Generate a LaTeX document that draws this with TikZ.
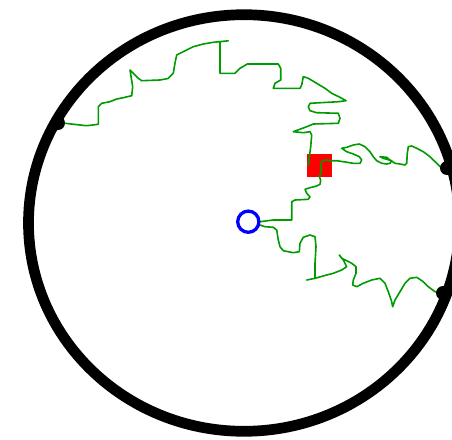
\documentclass[tikz,border=0pt]{standalone}
\definecolor{walkgreen}{RGB}{0,155,0}
\begin{document}
\begin{tikzpicture}[x=1pt,y=-1pt,
  walk/.style={draw=walkgreen, line width=1.6pt, line join=round, line cap=round},
  hit/.style={circle, fill=black, inner sep=0pt, minimum size=14pt},
  ring/.style={draw=black, line width=10.7pt},
  startmark/.style={circle, draw=blue, line width=3.3pt, inner sep=0pt, minimum size=21.2pt, fill=white},
  targetbox/.style={fill=red, inner sep=0pt, minimum width=25pt, minimum height=22.7pt}
]
\useasboundingbox (0,0) rectangle (452,439);
\clip (0,0) rectangle (452,439);
\fill[white] (0,0) rectangle (452,439);

\node[targetbox] (target) at (319.2,165.3) {};
\coordinate (hitL) at (58,123);
\coordinate (hitR) at (447,168);
\coordinate (hitB) at (443,293);
\coordinate (o) at (248.3,221.7);

% walk: start -> target -> right hit
\draw[walk] (260,221.7) -- (273.3,220) -- (291.7,220) -- (291.7,201.7) -- (295,200) -- (308.3,199.3) -- (310,196.7) -- (306.7,193.3) -- (305,189.3) -- (310,187.7) -- (316.7,186) -- (320,184.3) -- (320.7,180) -- (319.3,176.7) -- (321.7,171.7) -- (320.7,166.7) -- (321.7,161.7) -- (325,160) -- (331.7,160.7) -- (336.7,160.7) -- (343.3,161.7) -- (353.3,163.3) -- (360,163.3) -- (361.7,160) -- (359.3,156.7) -- (353.3,154) -- (346.7,151.7) -- (341.7,148.3) -- (346.7,147.3) -- (353.3,145) -- (359.3,144) -- (365,146.7) -- (370,151.7) -- (373.3,156.7) -- (376.7,160.7) -- (381.7,163.3) -- (386.7,164) -- (390,163.3) -- (391.7,160.7) -- (383.3,158.3) -- (380,156.7) -- (386.7,157.3) -- (390,160) -- (395,163.3) -- (400,164) -- (405,165) -- (406.7,163.3) -- (407.3,153.3) -- (408.3,146.7) -- (411.7,146) -- (416.7,148.3) -- (423.3,151.7) -- (430,156.7) -- (436.7,163.3) -- (441.7,168.3) -- (hitR);

% walk: target -> left hit
\draw[walk] (308.3,165) -- (309.3,157.3) -- (310.7,146.7) -- (311.7,135) -- (310,131.7) -- (303.3,132.7) -- (293.3,131.7) -- (306.7,126.7) -- (313.3,124) -- (338.3,123.3) -- (340,118.3) -- (338.3,113.3) -- (316.7,112.7) -- (310,110.7) -- (308.3,106.7) -- (310,103.3) -- (338.3,101.7) -- (346,100.7) -- (340,97.3) -- (331.7,93.3) -- (325,88.3) -- (316.7,83.3) -- (308.3,78.3) -- (303.3,76.7) -- (301.7,85) -- (300,88.3) -- (273.3,88.3) -- (275,83.3) -- (280.7,80) -- (280.7,68.3) -- (278.3,64) -- (247.3,64) -- (240,68.3) -- (235,73.3) -- (220,73.3) -- (220,41.7) -- (228.3,40.8) -- (213.3,42.3) -- (203.3,44) -- (193.3,46.7) -- (186.7,50) -- (180,53.3) -- (176.7,55) -- (175,63) -- (173.3,73.3) -- (168,78.5) -- (160,80) -- (141.7,80.7) -- (138.3,78.3) -- (133.3,73.3) -- (130,70) -- (132.7,86.7) -- (131.7,95.7) -- (123.3,97.7) -- (116.7,99) -- (110,101.7) -- (101.7,103.3) -- (98.3,106.7) -- (98.3,124.3) -- (86.7,125.7) -- (80,125) -- (65,123.3) -- (hitL);

% walk: start -> bottom right hit
\draw[walk] (260,225) -- (265,226.7) -- (273.3,227.3) -- (276.7,230) -- (278.3,240) -- (280,246.7) -- (283.3,250.7) -- (293.3,252.7) -- (299.3,251.7) -- (300,243.3) -- (303.3,237.3) -- (310,235) -- (315,236.7) -- (316,246.7) -- (315,263.3) -- (315,278.3) -- (306.7,280) -- (315,278.3) -- (326.7,275) -- (333.3,273.3) -- (341.7,270) -- (346.7,266.7) -- (343.3,260) -- (339.3,255) -- (341.7,258.3) -- (346.7,260.7) -- (351.7,263.3) -- (356,266.7) -- (356,273.3) -- (353.3,280) -- (352.7,285) -- (356.7,286.7) -- (363.3,283.3) -- (371.7,280) -- (380,278.3) -- (385,283.3) -- (388.3,291.7) -- (391.7,301.7) -- (392.7,306.7) -- (395,300) -- (400,291.7) -- (405,283.3) -- (410,278.3) -- (416.7,277.3) -- (423.3,281.7) -- (428.3,286.7) -- (435,291.7) -- (hitB);

\draw[ring] (244,223) ellipse [x radius=215.5pt, y radius=208.3pt];
\node[hit] (dotL) at (hitL) {};
\node[hit] (dotR) at (hitR) {};
\node[hit] (dotB) at (hitB) {};
\node[startmark] (start) at (o) {};
\end{tikzpicture}
\end{document}
